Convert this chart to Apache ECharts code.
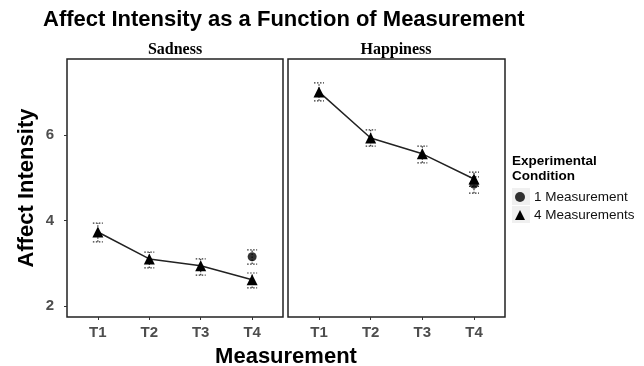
<!DOCTYPE html>
<html>
  <head>
    <meta charset="utf-8">
    <title></title>
    <style>
    html, body {margin:0; padding:0; background:#fff;}
    .box {width:644px; height:366px;}
    </style>
    <script src="https://cdn.jsdelivr.net/npm/echarts@6/dist/echarts.min.js"></script>
  </head>
  <body>
    <div class="box" id="main"></div>
    <script>
    // measurement points
    const categories = ['T1', 'T2', 'T3', 'T4'];
    const yTicks = [2, 4, 6];

    // Sadness panel
    const sadFour   = [3.73, 3.10, 2.94, 2.61];
    const sadFourLo = [3.50, 2.89, 2.72, 2.42];
    const sadFourHi = [3.94, 3.26, 3.10, 2.77];
    const sadOne    = [null, null, null, 3.15];
    const sadOneLo  = [null, null, null, 2.98];
    const sadOneHi  = [null, null, null, 3.31];

    // Happiness panel
    const hapFour   = [7.01, 5.93, 5.56, 4.97];
    const hapFourLo = [6.80, 5.74, 5.35, 4.80];
    const hapFourHi = [7.22, 6.12, 5.74, 5.13];
    const hapOne    = [null, null, null, 4.85];
    const hapOneLo  = [null, null, null, 4.64];
    const hapOneHi  = [null, null, null, 5.02];

    const font = 'Liberation Sans';

    function pts(vals) {
      return vals.map((v, i) => [i + 1, v]);
    }
    function bars(lo, hi) {
      let out = [];
      lo.forEach((l, i) => { if (l != null) out.push([i + 1, l, hi[i]]); });
      return out;
    }

    function errRender(params, api) {
      let x = api.value(0);
      let lo = api.coord([x, api.value(1)]);
      let hi = api.coord([x, api.value(2)]);
      let st = {stroke: '#333', lineWidth: 1.2, lineDash: [1.5, 1.5]};
      return {
        type: 'group',
        children: [
          {type: 'line', shape: {x1: lo[0] - 5, y1: lo[1], x2: lo[0] + 5, y2: lo[1]}, style: st},
          {type: 'line', shape: {x1: hi[0] - 5, y1: hi[1], x2: hi[0] + 5, y2: hi[1]}, style: st},
          {type: 'line', shape: {x1: lo[0], y1: lo[1], x2: hi[0], y2: hi[1]}, style: st}
        ]
      };
    }

    function xAxis(idx) {
      return {
        type: 'value', gridIndex: idx, min: 0.4, max: 4.6,
        axisLine: {show: false},
        splitLine: {show: false},
        axisTick: {show: true, customValues: [1, 2, 3, 4], length: 3, lineStyle: {color: '#333'}},
        axisLabel: {
          customValues: [1, 2, 3, 4], margin: 8,
          formatter: v => categories[Math.round(v) - 1],
          color: '#4d4d4d', fontSize: 15, fontWeight: 'bold', fontFamily: font
        }
      };
    }

    function yAxis(idx, showLabels) {
      return {
        type: 'value', gridIndex: idx, min: 1.74, max: 7.78,
        name: showLabels ? 'Affect Intensity' : '',
        nameLocation: 'middle', nameGap: 29,
        nameTextStyle: {fontSize: 22, fontWeight: 'bold', color: '#000', fontFamily: font},
        axisLine: {show: false},
        splitLine: {show: false},
        axisTick: {show: showLabels, customValues: yTicks, length: 3, lineStyle: {color: '#333'}},
        axisLabel: {
          show: showLabels, customValues: yTicks, margin: 13,
          color: '#4d4d4d', fontSize: 15, fontWeight: 'bold', fontFamily: font
        }
      };
    }

    function panelSeries(idx, four, fourLo, fourHi, one, oneLo, oneHi) {
      return [
        {
          type: 'custom', xAxisIndex: idx, yAxisIndex: idx, silent: true,
          renderItem: errRender, data: bars(fourLo, fourHi), z: 1
        },
        {
          type: 'custom', xAxisIndex: idx, yAxisIndex: idx, silent: true,
          renderItem: errRender, data: bars(oneLo, oneHi), z: 1
        },
        {
          name: '1 Measurement', type: 'scatter', xAxisIndex: idx, yAxisIndex: idx,
          symbol: 'circle', symbolSize: 9,
          itemStyle: {color: '#000'},
          data: pts(one).filter(p => p[1] != null), z: 3
        },
        {
          name: '4 Measurements', type: 'line', xAxisIndex: idx, yAxisIndex: idx,
          symbol: 'triangle', symbolSize: 11, showSymbol: true,
          lineStyle: {color: '#222', width: 1.5},
          itemStyle: {color: '#000'},
          data: pts(four), z: 4
        }
      ];
    }

    let option = {
      backgroundColor: '#fff',
      animation: false,
      title: [
        {text: 'Affect Intensity as a Function of Measurement', left: 43, top: 9, padding: 0,
          textStyle: {fontSize: 22, fontWeight: 'bold', color: '#000', fontFamily: font}},
        {text: 'Sadness', left: 175, top: 42, textAlign: 'center', padding: 0,
          textStyle: {fontSize: 16, fontWeight: 'bold', color: '#000', fontFamily: 'Liberation Serif'}},
        {text: 'Happiness', left: 396, top: 42, textAlign: 'center', padding: 0,
          textStyle: {fontSize: 16, fontWeight: 'bold', color: '#000', fontFamily: 'Liberation Serif'}},
        {text: 'Measurement', left: 286, top: 346, textAlign: 'center', padding: 0,
          textStyle: {fontSize: 22, fontWeight: 'bold', color: '#000', fontFamily: font}},
        {text: 'Experimental\nCondition', left: 512, top: 154, padding: 0,
          textStyle: {fontSize: 13.5, fontWeight: 'bold', color: '#000', lineHeight: 15, fontFamily: font}}
      ],
      legend: {
        orient: 'vertical', left: 515, top: 190, padding: 0,
        itemWidth: 10, itemHeight: 10, itemGap: 4,
        data: [
          {name: '1 Measurement', icon: 'circle'},
          {name: '4 Measurements', icon: 'triangle'}
        ],
        textStyle: {fontSize: 13.5, color: '#111', fontFamily: font, padding: [0, 0, 0, 4]}
      },
      graphic: [
        {type: 'rect', shape: {x: 512, y: 188, width: 18, height: 17}, style: {fill: '#f0f0f0'}, z: -1},
        {type: 'rect', shape: {x: 512, y: 206, width: 18, height: 17}, style: {fill: '#f0f0f0'}, z: -1}
      ],
      grid: [
        {left: 67, top: 59, width: 216, height: 258, show: true, borderColor: '#222', borderWidth: 1.5, backgroundColor: '#fff'},
        {left: 288, top: 59, width: 217, height: 258, show: true, borderColor: '#222', borderWidth: 1.5, backgroundColor: '#fff'}
      ],
      xAxis: [xAxis(0), xAxis(1)],
      yAxis: [yAxis(0, true), yAxis(1, false)],
      series: [].concat(
        panelSeries(0, sadFour, sadFourLo, sadFourHi, sadOne, sadOneLo, sadOneHi),
        panelSeries(1, hapFour, hapFourLo, hapFourHi, hapOne, hapOneLo, hapOneHi)
      )
    };

    let chart = echarts.init(document.getElementById('main'));
    chart.setOption(option);
    </script>
  </body>
</html>
